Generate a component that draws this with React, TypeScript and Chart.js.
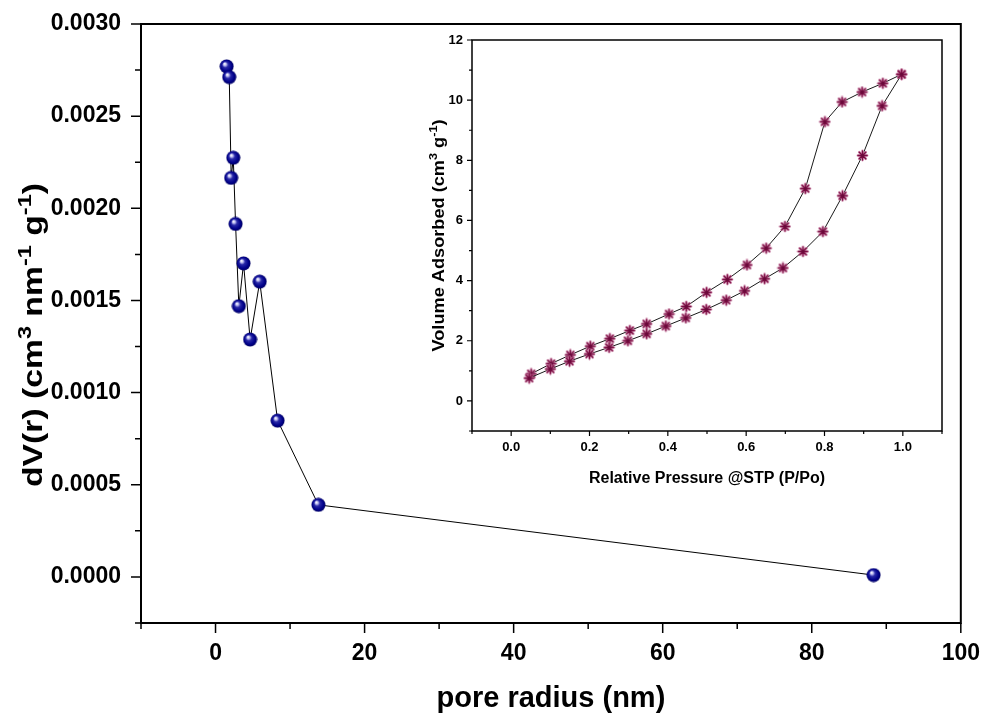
import React, { useEffect, useRef } from 'react';
import { Chart, registerables } from 'chart.js';

Chart.register(...registerables);

// ---------- Data ----------
// Main plot: pore size distribution
const poreRadius = [1.49, 1.84, 2.1, 2.38, 2.69, 3.13, 3.76, 4.64, 5.93, 8.33, 13.8, 88.3];
const dVr = [0.00277, 0.002712, 0.002165, 0.002274, 0.001915, 0.001469, 0.001701, 0.001288, 0.001602, 0.000848, 0.000391, 0.00001];

// Inset: adsorption branch
const adsP = [0.046, 0.1, 0.149, 0.2, 0.25, 0.298, 0.346, 0.395, 0.446, 0.498, 0.549, 0.596, 0.647, 0.694, 0.745, 0.796, 0.846, 0.897, 0.947, 0.997];
const adsV = [0.76, 1.06, 1.32, 1.56, 1.78, 2.0, 2.23, 2.49, 2.76, 3.04, 3.35, 3.66, 4.06, 4.42, 4.97, 5.63, 6.82, 8.16, 9.81, 10.86];
// Inset: desorption branch
const desP = [0.997, 0.949, 0.896, 0.845, 0.801, 0.751, 0.699, 0.651, 0.602, 0.552, 0.499, 0.447, 0.403, 0.346, 0.303, 0.252, 0.202, 0.151, 0.102, 0.051];
const desV = [10.86, 10.56, 10.27, 9.94, 9.28, 7.06, 5.8, 5.08, 4.52, 4.04, 3.61, 3.14, 2.89, 2.56, 2.34, 2.07, 1.82, 1.53, 1.24, 0.9];

// Axis settings
const mainX = { min: -10, max: 100, step: 10, major: 20 };
const mainY = { min: -0.00025, max: 0.003, step: 0.00025, major: 0.0005 };
const insetX = { min: -0.1, max: 1.1, step: 0.1, major: 0.2 };
const insetY = { min: -1, max: 12, step: 1, major: 2 };

const mainXTitle = [{ t: 'pore radius (nm)' }];
const mainYTitle = [{ t: 'dV(r) (cm' }, { t: '3', sup: true }, { t: ' nm' }, { t: '-1', sup: true }, { t: ' g' }, { t: '-1', sup: true }, { t: ')' }];
const insetXTitle = [{ t: 'Relative Pressure @STP (P/Po)' }];
const insetYTitle = [{ t: 'Volume Adsorbed (cm' }, { t: '3', sup: true }, { t: ' g' }, { t: '-1', sup: true }, { t: ')' }];

const FONT = '"Liberation Sans", Arial, Helvetica, sans-serif';

type Part = { t: string; sup?: boolean };

function isMajor(v: number, m: number) {
  const r = v / m;
  return Math.abs(r - Math.round(r)) < 1e-6;
}

function drawRich(ctx: CanvasRenderingContext2D, parts: Part[], x: number, y: number, size: number, rotate: boolean, targetLen?: number) {
  const supSize = size * 0.7;
  ctx.save();
  ctx.translate(x, y);
  if (rotate) ctx.rotate(-Math.PI / 2);
  ctx.fillStyle = '#000';
  ctx.textBaseline = 'alphabetic';
  ctx.textAlign = 'left';
  let total = 0;
  const widths = parts.map((p) => {
    ctx.font = `bold ${p.sup ? supSize : size}px ${FONT}`;
    const w = ctx.measureText(p.t).width;
    total += w;
    return w;
  });
  if (targetLen) ctx.scale(targetLen / total, 1);
  let cx = -total / 2;
  parts.forEach((p, i) => {
    ctx.font = `bold ${p.sup ? supSize : size}px ${FONT}`;
    ctx.fillText(p.t, cx, p.sup ? -size * 0.4 : 0);
    cx += widths[i];
  });
  ctx.restore();
}

function framePlugin(cfg: {
  major: number; minor: number; tickWidth: number; frameWidth: number;
  xTitle: Part[]; yTitle: Part[]; xTitleSize: number; yTitleSize: number;
  xTitleBaseline: number; yTitleBaseline: number; yTitleCenter?: number; yTitleLen?: number;
}) {
  return {
    id: 'frameTicks',
    afterDraw(chart: any) {
      const { ctx, chartArea: a } = chart;
      const xs = chart.scales.x;
      const ys = chart.scales.y;
      ctx.save();
      ctx.strokeStyle = '#000';
      ctx.lineWidth = cfg.tickWidth;
      ctx.beginPath();
      xs.ticks.forEach((t: any) => {
        const px = xs.getPixelForValue(t.value);
        const len = t.label ? cfg.major : cfg.minor;
        ctx.moveTo(px, a.bottom);
        ctx.lineTo(px, a.bottom + len);
      });
      ys.ticks.forEach((t: any) => {
        const py = ys.getPixelForValue(t.value);
        const len = t.label ? cfg.major : cfg.minor;
        ctx.moveTo(a.left, py);
        ctx.lineTo(a.left - len, py);
      });
      ctx.stroke();
      ctx.lineWidth = cfg.frameWidth;
      ctx.strokeRect(a.left, a.top, a.right - a.left, a.bottom - a.top);
      ctx.restore();
      drawRich(ctx, cfg.xTitle, (a.left + a.right) / 2, cfg.xTitleBaseline, cfg.xTitleSize, false);
      const yc = cfg.yTitleCenter !== undefined ? cfg.yTitleCenter : (a.top + a.bottom) / 2;
      drawRich(ctx, cfg.yTitle, cfg.yTitleBaseline, yc, cfg.yTitleSize, true, cfg.yTitleLen);
    },
  };
}

function makeSphere() {
  const c = document.createElement('canvas');
  c.width = 15;
  c.height = 15;
  const g = c.getContext('2d')!;
  const grad = g.createRadialGradient(5.3, 4.8, 0.3, 7.5, 7.5, 7.2);
  grad.addColorStop(0, '#ffffff');
  grad.addColorStop(0.18, '#b8b8f0');
  grad.addColorStop(0.38, '#2a2aa8');
  grad.addColorStop(0.75, '#00008a');
  grad.addColorStop(1, '#000060');
  g.fillStyle = grad;
  g.beginPath();
  g.arc(7.5, 7.5, 7, 0, Math.PI * 2);
  g.fill();
  return c;
}

function makeStar() {
  const c = document.createElement('canvas');
  c.width = 13;
  c.height = 13;
  const g = c.getContext('2d')!;
  const r = 4.6;
  const cx = 6.5;
  const cy = 6.5;
  const path = () => {
    g.beginPath();
    for (let k = 0; k < 4; k++) {
      const ang = (k * Math.PI) / 4;
      g.moveTo(cx - r * Math.cos(ang), cy - r * Math.sin(ang));
      g.lineTo(cx + r * Math.cos(ang), cy + r * Math.sin(ang));
    }
  };
  g.lineCap = 'round';
  path();
  g.strokeStyle = 'rgba(200,120,160,0.85)';
  g.lineWidth = 2.6;
  g.stroke();
  path();
  g.strokeStyle = '#7a0c42';
  g.lineWidth = 1.3;
  g.stroke();
  g.fillStyle = '#6a0a3a';
  g.beginPath();
  g.arc(cx, cy, 1.6, 0, Math.PI * 2);
  g.fill();
  return c;
}

function axisCfg(ax: { min: number; max: number; step: number; major: number }, opts: {
  size: number; padding: number; tickLength: number; fmt: (v: number) => string; fit: (s: any) => void;
}) {
  return {
    type: 'linear' as const,
    min: ax.min,
    max: ax.max,
    afterFit: opts.fit,
    grid: { display: false, drawTicks: true, tickLength: opts.tickLength },
    border: { display: false },
    ticks: {
      stepSize: ax.step,
      autoSkip: false,
      maxRotation: 0,
      minRotation: 0,
      padding: opts.padding,
      color: '#000',
      font: { family: FONT, size: opts.size, weight: 'bold' as const },
      callback: (v: any) => (isMajor(Number(v), ax.major) ? opts.fmt(Number(v)) : ''),
    },
  };
}

export default function App() {
  const mainRef = useRef<HTMLCanvasElement>(null);
  const insetRef = useRef<HTMLCanvasElement>(null);

  useEffect(() => {
    document.body.style.margin = '0';
    const sphere = makeSphere();
    const star = makeStar();

    const main = new Chart(mainRef.current!, {
      type: 'scatter',
      data: {
        datasets: [
          {
            data: poreRadius.map((x, i) => ({ x, y: dVr[i] })),
            showLine: true,
            borderColor: '#000',
            borderWidth: 1,
            pointStyle: sphere as any,
            pointRadius: 7,
            pointHoverRadius: 7,
          },
        ],
      },
      options: {
        responsive: false,
        animation: false,
        events: [],
        layout: { padding: { left: 0, top: 24, right: 21, bottom: 0 } },
        plugins: { legend: { display: false }, tooltip: { enabled: false } },
        scales: {
          x: axisCfg(mainX, { size: 23, padding: 7, tickLength: 10, fmt: (v) => String(Math.round(v)), fit: (s) => { s.height = 93; } }),
          y: axisCfg(mainY, { size: 23, padding: 10, tickLength: 10, fmt: (v) => v.toFixed(4), fit: (s) => { s.width = 141; } }),
        },
      },
      plugins: [
        framePlugin({
          major: 10, minor: 6, tickWidth: 1.5, frameWidth: 2,
          xTitle: mainXTitle, yTitle: mainYTitle, xTitleSize: 29, yTitleSize: 27,
          xTitleBaseline: 707, yTitleBaseline: 42, yTitleCenter: 335, yTitleLen: 304,
        }),
      ],
    } as any);

    const inset = new Chart(insetRef.current!, {
      type: 'scatter',
      data: {
        datasets: [
          {
            data: adsP.map((x, i) => ({ x, y: adsV[i] })),
            showLine: true,
            borderColor: '#1a1a1a',
            borderWidth: 1,
            pointStyle: star as any,
            pointRadius: 5,
          },
          {
            data: desP.map((x, i) => ({ x, y: desV[i] })),
            showLine: true,
            borderColor: '#1a1a1a',
            borderWidth: 1,
            pointStyle: star as any,
            pointRadius: 5,
          },
        ],
      },
      options: {
        responsive: false,
        animation: false,
        events: [],
        layout: { padding: { left: 0, top: 12, right: 13, bottom: 0 } },
        plugins: { legend: { display: false }, tooltip: { enabled: false } },
        scales: {
          x: axisCfg(insetX, { size: 13, padding: 4, tickLength: 5, fmt: (v) => v.toFixed(1), fit: (s) => { s.height = 62; } }),
          y: axisCfg(insetY, { size: 13, padding: 4, tickLength: 5, fmt: (v) => String(Math.round(v)), fit: (s) => { s.width = 57; } }),
        },
      },
      plugins: [
        framePlugin({
          major: 5, minor: 3, tickWidth: 1.2, frameWidth: 1.5,
          xTitle: insetXTitle, yTitle: insetYTitle, xTitleSize: 16, yTitleSize: 16,
          xTitleBaseline: 454.5, yTitleBaseline: 28.5, yTitleLen: 232,
        }),
      ],
    } as any);

    return () => {
      main.destroy();
      inset.destroy();
    };
  }, []);

  return (
    <div style={{ position: 'relative', width: 987, height: 716, background: '#fff' }}>
      <canvas ref={mainRef} width={987} height={716} style={{ position: 'absolute', left: 0, top: 0 }} />
      <canvas ref={insetRef} width={540} height={465} style={{ position: 'absolute', left: 415, top: 28 }} />
    </div>
  );
}
